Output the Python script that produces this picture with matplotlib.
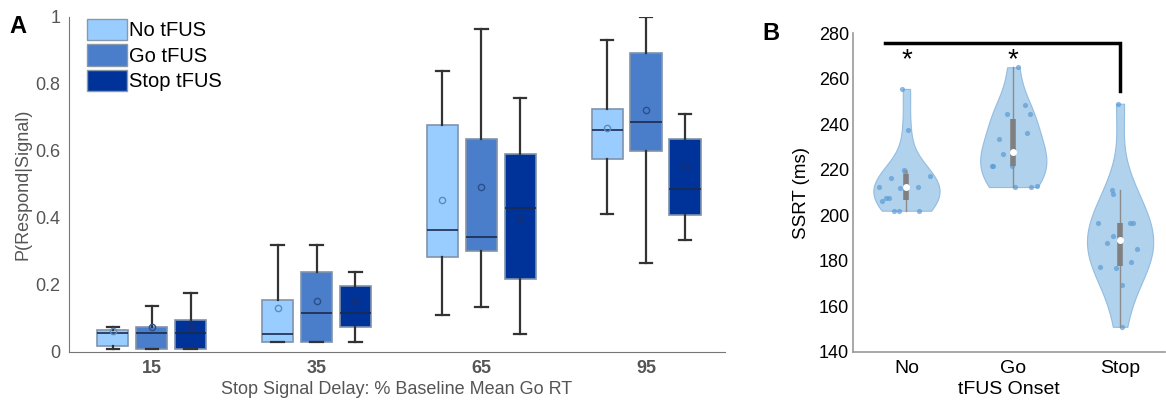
import numpy as np
import matplotlib
matplotlib.use('Agg')
import matplotlib.pyplot as plt
from matplotlib.patches import Patch

plt.rcParams['font.family'] = ['Liberation Sans', 'DejaVu Sans']

# ---- panel A data : box stats per delay ----
delays = ['15', '35', '65', '95']
conds = ['No tFUS', 'Go tFUS', 'Stop tFUS']
box_colors = ['#99CCFF', '#4A7DCA', '#003399']
mean_colors = ['#5a8cc0', '#2a4f8a', '#1a2f70']

# [whislo, q1, med, q3, whishi, mean] for No / Go / Stop
no_stats = [[0.010, 0.018, 0.057, 0.066, 0.075, 0.063],
            [0.030, 0.030, 0.054, 0.155, 0.320, 0.130],
            [0.110, 0.284, 0.364, 0.676, 0.839, 0.454],
            [0.412, 0.576, 0.663, 0.725, 0.931, 0.667]]
go_stats = [[0.010, 0.010, 0.057, 0.074, 0.138, 0.075],
            [0.030, 0.030, 0.115, 0.238, 0.320, 0.152],
            [0.135, 0.300, 0.344, 0.635, 0.964, 0.492],
            [0.266, 0.600, 0.686, 0.892, 1.000, 0.722]]
stop_stats = [[0.010, 0.010, 0.057, 0.095, 0.175, 0.075],
              [0.030, 0.074, 0.115, 0.197, 0.240, 0.152],
              [0.052, 0.218, 0.429, 0.592, 0.758, 0.397],
              [0.335, 0.410, 0.486, 0.635, 0.710, 0.556]]

# ---- panel B data : SSRT per onset ----
onsets = ['No', 'Go', 'Stop']
ssrt_no = [255.5, 237.3, 220.0, 219.0, 216.4, 217.3, 212.4, 212.0, 212.4,
           207.6, 207.6, 206.2, 202.0, 202.0, 202.0]
ssrt_go = [265.0, 248.4, 244.4, 244.4, 236.0, 233.3, 229.3, 226.7, 221.8,
           221.8, 221.8, 212.4, 212.4, 213.0]
ssrt_stop = [249.0, 151.0, 211.0, 209.3, 196.4, 196.4, 196.4, 190.7, 188.0,
             185.3, 179.6, 177.3, 177.0, 169.3]
jit_no = [-0.04, 0.01, -0.02, -0.01, -0.14, 0.22, -0.26, -0.06, 0.11,
          -0.19, -0.16, -0.23, -0.12, -0.07, 0.12]
jit_go = [0.04, 0.11, -0.06, 0.16, 0.13, -0.13, 0.0, -0.10, -0.20,
          -0.19, -0.01, 0.02, 0.17, 0.22]
jit_stop = [-0.02, 0.02, -0.08, -0.07, -0.21, 0.09, 0.12, -0.07, -0.12,
            0.16, 0.10, -0.19, -0.04, 0.02]

fig = plt.figure(figsize=(11.66, 4.04), dpi=100)
axA = fig.add_axes([0.059, 0.129, 0.563, 0.829])
axB = fig.add_axes([0.7316, 0.129, 0.2675, 0.789])

# ---------------- Panel A ----------------
offsets = [-0.236, 0.0, 0.236]
grey = '#555555'
for k, stats in enumerate([no_stats, go_stats, stop_stats]):
    bstats = []
    for s in stats:
        bstats.append(dict(whislo=s[0], q1=s[1], med=s[2], q3=s[3], whishi=s[4], fliers=[]))
    pos = [i + 1 + offsets[k] for i in range(len(delays))]
    axA.bxp(bstats, positions=pos, widths=0.19, patch_artist=True, showfliers=False,
            boxprops=dict(facecolor=box_colors[k], edgecolor='#7f93ad', linewidth=1.2),
            medianprops=dict(color='#1b2b4b', linewidth=1.2),
            whiskerprops=dict(color='#333333', linewidth=1.6),
            capprops=dict(color='#333333', linewidth=1.6),
            capwidths=0.075, zorder=3)
    means = [s[5] for s in stats]
    axA.plot(pos, means, 'o', ms=4.5, mfc='none', mec=mean_colors[k], mew=1.0, zorder=4)

axA.set_xlim(0.497, 4.48)
axA.set_ylim(0, 1)
axA.set_xticks(range(1, len(delays) + 1))
axA.set_xticklabels(delays, fontweight='bold')
axA.set_yticks([0, 0.2, 0.4, 0.6, 0.8, 1])
axA.set_yticklabels(['0', '0.2', '0.4', '0.6', '0.8', '1'])
axA.tick_params(length=0, colors=grey, labelsize=13, pad=6)
axA.set_xlabel('Stop Signal Delay: % Baseline Mean Go RT', color=grey, fontsize=13, labelpad=3)
axA.set_ylabel('P(Respond|Signal)', color=grey, fontsize=13, labelpad=3)
for sp in ['top', 'right']:
    axA.spines[sp].set_visible(False)
for sp in ['left', 'bottom']:
    axA.spines[sp].set_color('#777777')
handles = [Patch(facecolor=c, edgecolor='#8899aa') for c in box_colors]
axA.legend(handles, conds, loc='upper left', bbox_to_anchor=(0.01, 1.03), frameon=False,
           fontsize=14.5, handlelength=1.95, handleheight=1.25, handletextpad=0.12,
           labelspacing=0.2, borderaxespad=0.2)
fig.text(0.008, 0.918, 'A', fontsize=17, fontweight='bold')

# ---------------- Panel B ----------------
groups = [ssrt_no, ssrt_go, ssrt_stop]
jits = [jit_no, jit_go, jit_stop]
vp = axB.violinplot(groups, positions=[1, 2, 3], widths=0.62, showextrema=False)
for body in vp['bodies']:
    body.set_facecolor('#a9cdea')
    body.set_edgecolor('#8db8de')
    body.set_alpha(0.9)
    body.set_linewidth(0.8)
for i, (g, j) in enumerate(zip(groups, jits)):
    g = np.array(g)
    axB.scatter(i + 1 + np.array(j), g, s=14, color='#5b9bd5', alpha=0.7, lw=0, zorder=3)
    q1, med, q3 = np.percentile(g, [25, 50, 75])
    iqr = q3 - q1
    lo = g[g >= q1 - 1.5 * iqr].min()
    hi = g[g <= q3 + 1.5 * iqr].max()
    axB.plot([i + 1, i + 1], [lo, hi], color='#8c8c8c', lw=1, zorder=4)
    axB.plot([i + 1, i + 1], [q1, q3], color='#808080', lw=4, solid_capstyle='butt', zorder=5)
    axB.scatter([i + 1], [med], s=16, color='white', zorder=6)

axB.plot([0.8, 3.0, 3.0], [275.6, 275.6, 254.7], color='black', lw=2.5, solid_joinstyle='miter')
axB.text(1.0, 262.5, '*', ha='center', va='bottom', fontsize=20)
axB.text(2.0, 262.5, '*', ha='center', va='bottom', fontsize=20)

axB.set_xlim(0.5, 3.42)
axB.set_ylim(140, 280)
axB.set_yticks(range(140, 281, 20))
axB.set_xticks([1, 2, 3])
axB.set_xticklabels(onsets)
axB.tick_params(axis='y', length=0, labelsize=13, pad=3)
axB.tick_params(axis='x', length=0, labelsize=14, pad=6)
axB.set_xlabel('tFUS Onset', fontsize=14, labelpad=3)
axB.set_ylabel('SSRT (ms)', fontsize=13.5, labelpad=6)
for sp in ['top', 'right']:
    axB.spines[sp].set_visible(False)
for sp in ['left', 'bottom']:
    axB.spines[sp].set_color('#999999')
    axB.spines[sp].set_linewidth(1.2)
fig.text(0.654, 0.9, 'B', fontsize=17, fontweight='bold')

fig.savefig('out.png', dpi=100)
